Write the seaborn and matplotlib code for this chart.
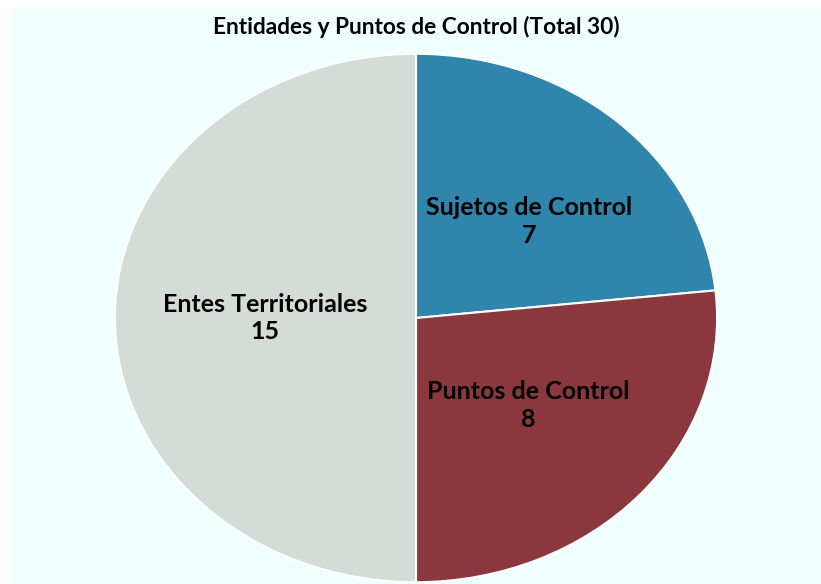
import numpy as np
import seaborn as sns
import matplotlib.pyplot as plt
from matplotlib.patches import Rectangle

categories = ["Sujetos de Control", "Puntos de Control", "Entes Territoriales"]
counts = [7, 8, 15]
colors = ["#2F85AB", "#8A383D", "#D3DCD7"]
title = "Entidades y Puntos de Control (Total 30)"

sns.set_theme(style="white")
plt.rcParams['font.family'] = ['Lato', 'DejaVu Sans']

fig = plt.figure(figsize=(8.21, 5.84), dpi=100)
fig.patch.set_facecolor("white")
# light background panel
fig.patches.append(Rectangle((9 / 821, 0), 812 / 821, 576 / 584, transform=fig.transFigure,
                             facecolor="#F0FFFF", edgecolor="none", zorder=-5))

ax = fig.add_axes([114 / 821, 1 / 584, 604 / 821, 530 / 584])
ax.set_facecolor("none")
wedges, _ = ax.pie(counts, colors=colors, startangle=90, counterclock=False,
                   wedgeprops=dict(edgecolor="white", linewidth=1.5))
ax.set_aspect("auto")
ax.set_xlim(-1.003, 1.003)
ax.set_ylim(-1.003, 1.003)

label_pos = [(0.377, 0.364), (0.374, -0.33), (-0.5, 0.0)]
for name, val, (x, y) in zip(categories, counts, label_pos):
    ax.text(x, y, f"{name}\n{val}", ha="center", va="center", fontsize=18,
            fontweight="bold", color="black", linespacing=1.25)

fig.text(416 / 821, 1 - 27 / 584, title, ha="center", va="center",
         fontsize=16.3, fontweight="bold", color="black")

fig.savefig("out.png", dpi=100)
